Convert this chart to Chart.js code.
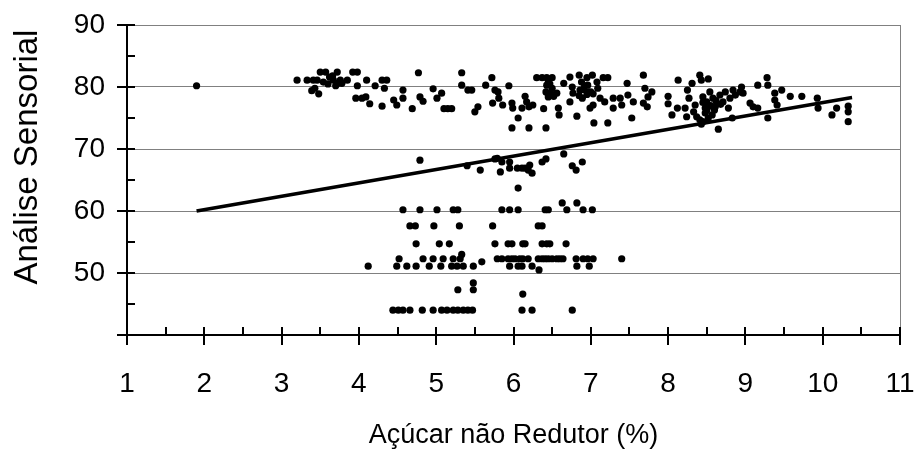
<!DOCTYPE html>
<html>
<head>
<meta charset="utf-8">
<script src="https://cdn.jsdelivr.net/npm/chart.js@4.4.1/dist/chart.umd.min.js"></script>
<style>
  body { margin: 0; background: #fff; }
</style>
</head>
<body>
<canvas id="chartSensorial" width="914" height="452"></canvas>
<script>
	// amostras: [açúcar não redutor (%), análise sensorial]
	let amostras = [
		[1.9, 80.2],
		// grupo superior, 3 a 5
		[3.2, 81.1], [3.33, 81.1], [3.41, 81.1], [3.46, 81.1], [3.5, 82.4], [3.57, 82.4], [3.72, 82.4],
		[3.92, 82.4], [3.98, 82.4], [3.54, 80.8], [3.6, 80.5], [3.67, 81.1], [3.73, 80.6], [3.76, 81.1],
		[3.85, 81.1], [3.39, 79.4], [3.43, 79.8], [3.48, 78.9], [3.98, 80.2], [4.1, 81.1], [4.21, 80.2],
		[4.3, 81.1], [4.36, 81.1], [4.33, 79.8], [3.96, 78.2], [4.04, 78.2], [4.09, 78.4], [4.14, 77.3],
		[4.3, 76.9], [4.45, 77.9], [4.49, 77.1], [4.57, 79.5], [4.57, 78.2], [4.69, 76.5], [4.77, 82.3],
		[4.79, 78.4], [4.83, 77.7], [4.96, 79.7], [5.01, 78.2], [3.62, 81.6], [3.7, 80.2], [3.78, 80.6],
		[3.66, 81.8],
		// grupo superior, 5 a 7.6
		[5.07, 79.0], [5.1, 76.5], [5.15, 76.5], [5.2, 76.5], [5.33, 82.3], [5.33, 80.3], [5.41, 79.5],
		[5.46, 79.5], [5.5, 76.0], [5.54, 76.8], [5.64, 80.3], [5.72, 81.5], [5.76, 79.5], [5.8, 79.2],
		[5.73, 77.4], [5.81, 78.2], [5.86, 77.1], [5.94, 80.2], [5.98, 77.4], [5.99, 76.6], [6.06, 75.0],
		[5.98, 73.4], [6.15, 78.5], [6.17, 77.6], [6.11, 76.6], [6.2, 76.8], [6.25, 77.1], [6.2, 73.4],
		[6.39, 76.5], [6.42, 73.4], [6.3, 81.5], [6.37, 81.5], [6.43, 81.5], [6.5, 81.5], [6.43, 80.3],
		[6.42, 79.2], [6.45, 78.4], [6.56, 79.0], [6.58, 76.6], [6.59, 75.5], [6.65, 80.6], [6.73, 81.6],
		[6.76, 80.0], [6.77, 79.0], [6.73, 77.6], [6.82, 75.3], [6.85, 81.9], [6.86, 79.5], [6.89, 78.2],
		[6.95, 81.5], [6.96, 80.3], [6.96, 79.2], [7.02, 81.9], [7.03, 78.9], [7.08, 80.8], [7.09, 79.8],
		[6.99, 76.6], [7.03, 77.1], [7.04, 74.2], [7.12, 78.2], [7.16, 81.5], [7.18, 77.6], [7.22, 74.2],
		[7.22, 81.5], [7.29, 78.2], [7.29, 76.6], [7.38, 78.2], [7.4, 77.1], [7.47, 80.6], [7.48, 78.7],
		[7.53, 75.0], [7.55, 77.6], [6.45, 81.0], [6.47, 80.5], [6.5, 79.8], [6.48, 79.0], [6.52, 78.5],
		[6.88, 80.8], [6.92, 80.2], [6.9, 79.6], [6.95, 78.8], [7.0, 79.2], [6.85, 78.6],
		// grupo superior, 7.6 a 10.4
		[7.68, 81.9], [7.7, 79.8], [7.68, 77.4], [7.74, 78.4], [7.79, 79.2], [7.73, 76.8], [8.0, 78.5],
		[8.0, 77.3], [8.05, 75.5], [8.12, 76.6], [8.13, 81.1], [8.25, 79.5], [8.22, 76.6], [8.24, 75.2],
		[8.27, 78.2], [8.31, 80.6], [8.33, 76.0], [8.35, 77.1], [8.37, 75.2], [8.41, 81.9], [8.43, 81.1],
		[8.45, 78.4], [8.41, 74.7], [8.43, 74.0], [8.48, 76.6], [8.52, 81.3], [8.5, 77.6], [8.54, 79.2],
		[8.57, 75.5], [8.58, 78.2], [8.61, 76.8], [8.65, 73.2], [8.67, 78.7], [8.71, 77.6], [8.74, 79.2],
		[8.78, 76.6], [8.8, 78.2], [8.83, 75.0], [8.84, 79.5], [8.87, 78.7], [8.93, 79.2], [8.95, 80.0],
		[8.97, 79.0], [9.06, 77.4], [9.1, 76.8], [9.16, 80.3], [9.16, 76.6], [9.28, 81.5], [9.29, 80.3],
		[9.29, 75.0], [9.38, 79.0], [9.38, 77.9], [9.41, 77.1], [9.47, 79.5], [9.58, 78.5], [9.73, 78.5],
		[9.93, 78.2], [9.94, 76.6], [10.12, 75.5], [10.18, 76.6], [10.33, 76.9], [10.33, 76.0], [10.33, 74.4],
		[8.45, 77.5], [8.5, 76.2], [8.55, 77.0], [8.6, 76.3], [8.62, 77.8], [8.48, 75.8], [8.52, 75.0],
		[8.45, 74.4], [8.58, 76.8], [8.68, 77.2],
		// faixa intermediária, perto da reta
		[4.79, 68.2], [5.4, 67.3], [5.57, 66.6], [5.76, 68.4], [5.79, 68.5], [5.83, 66.3], [5.85, 67.9],
		[5.95, 67.9], [5.95, 66.9], [6.05, 66.9], [6.11, 66.9], [6.15, 66.9], [6.21, 67.4], [6.24, 66.1],
		[6.19, 66.6], [6.37, 67.9], [6.42, 68.4], [6.65, 69.2], [6.76, 67.3], [6.81, 66.6], [6.89, 67.9],
		[6.06, 63.7],
		// grupo inferior
		[4.57, 60.2], [4.79, 60.2], [5.01, 60.2], [5.22, 60.2], [5.28, 60.2], [5.85, 60.2], [5.95, 60.2],
		[6.06, 60.2], [6.41, 60.2], [6.45, 60.2], [6.63, 61.3], [6.69, 60.2], [6.82, 61.3], [6.9, 60.2],
		[7.02, 60.2],
		[4.66, 57.6], [4.73, 57.6], [4.97, 57.6], [5.3, 57.6], [5.73, 57.6], [6.32, 57.6], [6.37, 57.6],
		[4.74, 54.7], [5.04, 54.7], [5.17, 54.7], [5.76, 54.7], [5.93, 54.7], [5.98, 54.7], [6.12, 54.7],
		[6.15, 54.7], [6.37, 54.7], [6.43, 54.7], [6.47, 54.7], [6.68, 54.7],
		[4.52, 52.3], [4.83, 52.3], [4.96, 52.3], [5.09, 52.3], [5.22, 52.3], [5.31, 52.3], [5.33, 53.0],
		[5.79, 52.3], [5.85, 52.3], [5.93, 52.3], [5.98, 52.3], [6.02, 52.3], [6.08, 52.3], [6.12, 52.3],
		[6.19, 52.3], [6.32, 52.3], [6.37, 52.3], [6.41, 52.3], [6.45, 52.3], [6.5, 52.3], [6.56, 52.3],
		[6.6, 52.3], [6.64, 52.3], [6.81, 52.3], [6.9, 52.3], [6.96, 52.3], [7.03, 52.3], [7.4, 52.3],
		[4.12, 51.1], [4.49, 51.1], [4.62, 51.1], [4.74, 51.1], [4.91, 51.1], [5.06, 51.1], [5.2, 51.1],
		[5.27, 51.1], [5.35, 51.1], [5.48, 51.1], [5.59, 51.8], [5.95, 51.1], [6.06, 51.1], [6.11, 51.1],
		[6.24, 51.1], [6.82, 51.1], [6.98, 51.1], [6.33, 50.5],
		[5.48, 48.4], [5.48, 47.3], [5.28, 47.3], [6.12, 46.6],
		[4.44, 44.0], [4.51, 44.0], [4.57, 44.0], [4.66, 44.0], [4.82, 44.0], [4.96, 44.0], [5.07, 44.0],
		[5.14, 44.0], [5.22, 44.0], [5.28, 44.0], [5.35, 44.0], [5.41, 44.0], [5.47, 44.0], [6.11, 44.0],
		[6.24, 44.0], [6.76, 44.0]
	];

	// reta de tendência (extremos)
	let tendenciaX = [1.9, 10.38];
	let tendenciaY = [60.0, 78.3];

	let eixoX = { min: 1, max: 11, passo: 1, passoMenor: 0.5 };
	let eixoY = { min: 40, max: 90, passo: 10, passoMenor: 5 };

	let fonte = "'Liberation Sans', Arial, sans-serif";

	// marcas de escala cruzando o eixo (maiores) e internas (menores), como no Excel
	let marcasPlugin = {
		id: 'marcas',
		afterDraw(chart) {
			let ctx = chart.ctx;
			let area = chart.chartArea;
			let sx = chart.scales.x;
			let sy = chart.scales.y;
			ctx.save();
			// borda direita da área de plotagem
			ctx.strokeStyle = '#808080';
			ctx.lineWidth = 1;
			ctx.beginPath();
			ctx.moveTo(area.right + 0.5, area.top);
			ctx.lineTo(area.right + 0.5, area.bottom);
			ctx.stroke();

			ctx.strokeStyle = '#000';
			ctx.lineWidth = 2;
			ctx.beginPath();
			for (let v = eixoY.min; v <= eixoY.max; v += eixoY.passoMenor) {
				let y = Math.round(sy.getPixelForValue(v));
				let maior = v % eixoY.passo === 0;
				ctx.moveTo(area.left - (maior ? 10 : 0), y);
				ctx.lineTo(area.left + 8, y);
			}
			for (let v = eixoX.min; v <= eixoX.max; v += eixoX.passoMenor) {
				let x = Math.round(sx.getPixelForValue(v));
				let maior = v % eixoX.passo === 0;
				ctx.moveTo(x, area.bottom - 8);
				ctx.lineTo(x, area.bottom + (maior ? 10 : 0));
			}
			ctx.stroke();
			ctx.restore();
		}
	};

	let ctx = document.getElementById('chartSensorial');

	let chartSensorial = new Chart(ctx, {
		type: 'scatter',
		data: {
			datasets: [{
				label: 'Tendência',
				type: 'line',
				data: tendenciaX.map((x, i) => ({ x: x, y: tendenciaY[i] })),
				borderColor: '#000',
				borderWidth: 3.5,
				pointRadius: 0,
				fill: false,
				order: 0
			}, {
				label: 'Amostras',
				data: amostras.map(p => ({ x: p[0], y: p[1] })),
				backgroundColor: '#000',
				borderWidth: 0,
				pointRadius: 3.6,
				order: 1
			}]
		},
		options: {
			responsive: false,
			animation: false,
			devicePixelRatio: 1,
			layout: {
				padding: { top: 25, right: 14, left: 0, bottom: 0 }
			},
			plugins: {
				legend: { display: false },
				tooltip: { enabled: false }
			},
			scales: {
				x: {
					type: 'linear',
					min: eixoX.min,
					max: eixoX.max,
					afterFit: s => {
						s.height = 117;
						s.paddingLeft = 0;
						s.paddingRight = 0;
					},
					ticks: {
						stepSize: eixoX.passo,
						color: '#000',
						padding: 32,
						font: { family: fonte, size: 28 }
					},
					grid: { display: false, drawTicks: false },
					border: { display: true, color: '#000', width: 2 },
					title: {
						display: true,
						text: 'Açúcar não Redutor (%)',
						color: '#000',
						padding: { top: 0, bottom: 0 },
						font: { family: fonte, size: 27 }
					}
				},
				y: {
					min: eixoY.min,
					max: eixoY.max,
					afterFit: s => {
						s.width = 127;
						s.paddingTop = 0;
						s.paddingBottom = 0;
					},
					ticks: {
						stepSize: eixoY.passo,
						color: '#000',
						padding: 22,
						font: { family: fonte, size: 28 },
						callback: v => v === eixoY.min ? '' : v
					},
					grid: {
						drawTicks: false,
						color: c => c.tick && c.tick.value === eixoY.min ? 'rgba(0,0,0,0)' : '#808080',
						lineWidth: 1
					},
					border: { display: true, color: '#000', width: 2 },
					title: {
						display: true,
						// espaços à esquerda sobem o título, como no original
						text: '\u00A0\u00A0\u00A0\u00A0\u00A0Análise Sensorial',
						color: '#000',
						padding: { top: 8, bottom: 0 },
						font: { family: fonte, size: 33 }
					}
				}
			}
		},
		plugins: [marcasPlugin]
	});
</script>
</body>
</html>
